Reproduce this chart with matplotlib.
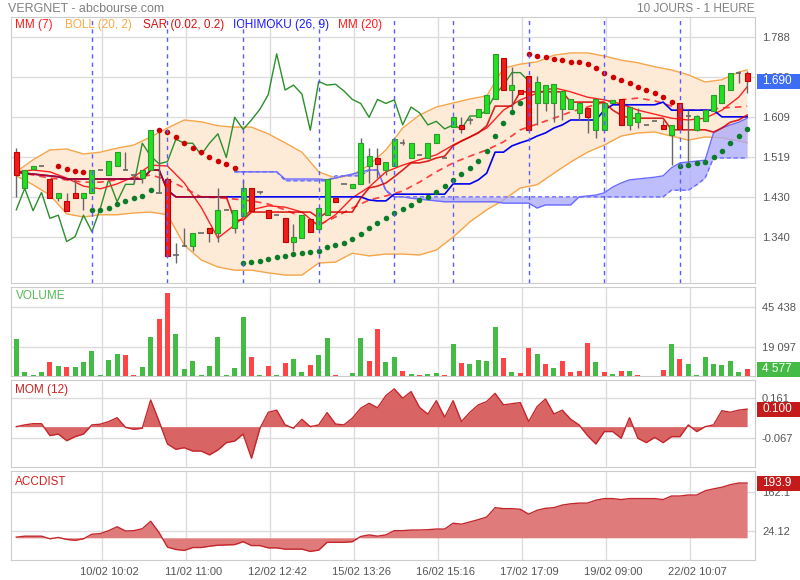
import matplotlib
matplotlib.use('Agg')
import matplotlib.pyplot as plt
import matplotlib.transforms as mtransforms
from matplotlib.patches import Rectangle
import numpy as np

plt.rcParams['font.family'] = ['Liberation Sans', 'DejaVu Sans']

# ---------------- DATA ----------------
opens = [1.531,1.450,1.493,1.500,1.470,1.429,1.422,1.439,1.429,1.439,
         1.491,1.480,1.500,1.491,1.480,1.473,1.491,1.440,1.470,1.301,
         1.320,1.320,1.350,1.361,1.350,1.402,1.361,1.389,1.450,1.441,
         1.402,1.390,1.383,1.331,1.340,1.382,1.360,1.391,1.429,1.459,
         1.450,1.459,1.500,1.519,1.491,1.500,1.551,1.519,1.525,1.519,
         1.551,1.519,1.588,1.592,1.603,1.609,1.619,1.649,1.741,1.669,
         1.670,1.702,1.642,1.642,1.640,1.628,1.628,1.619,1.629,1.581,
         1.581,1.640,1.649,1.592,1.599,1.592,1.600,1.592,1.570,1.640,
         1.612,1.581,1.600,1.622,1.640,1.669,1.709,1.709]
highs = [1.540,1.491,1.499,1.500,1.470,1.439,1.439,1.469,1.439,1.491,
         1.491,1.511,1.531,1.531,1.480,1.491,1.581,1.581,1.475,1.327,
         1.361,1.350,1.350,1.361,1.450,1.402,1.402,1.469,1.450,1.445,
         1.402,1.390,1.383,1.370,1.390,1.382,1.405,1.470,1.429,1.459,
         1.459,1.562,1.540,1.540,1.510,1.560,1.560,1.551,1.525,1.551,
         1.572,1.519,1.609,1.609,1.609,1.627,1.660,1.751,1.741,1.721,
         1.670,1.702,1.701,1.681,1.683,1.668,1.649,1.640,1.629,1.649,
         1.640,1.648,1.649,1.632,1.629,1.592,1.600,1.602,1.592,1.640,
         1.625,1.615,1.625,1.660,1.681,1.709,1.712,1.712]
lows = [1.431,1.450,1.493,1.500,1.429,1.422,1.400,1.429,1.402,1.439,
        1.491,1.480,1.500,1.491,1.462,1.462,1.491,1.440,1.299,1.282,
        1.320,1.311,1.350,1.331,1.331,1.402,1.351,1.389,1.400,1.437,
        1.383,1.390,1.331,1.311,1.340,1.353,1.360,1.391,1.420,1.459,
        1.450,1.459,1.461,1.473,1.480,1.500,1.546,1.519,1.525,1.519,
        1.551,1.519,1.588,1.574,1.595,1.609,1.619,1.649,1.670,1.622,
        1.661,1.580,1.592,1.622,1.599,1.603,1.628,1.603,1.573,1.562,
        1.581,1.640,1.592,1.581,1.585,1.592,1.600,1.583,1.502,1.583,
        1.507,1.578,1.600,1.622,1.640,1.669,1.685,1.663]
closes = [1.480,1.491,1.499,1.500,1.429,1.439,1.400,1.429,1.439,1.491,
          1.491,1.511,1.531,1.491,1.480,1.491,1.581,1.440,1.299,1.301,
          1.320,1.350,1.350,1.350,1.402,1.402,1.402,1.450,1.400,1.441,
          1.383,1.390,1.331,1.342,1.390,1.353,1.405,1.470,1.420,1.459,
          1.459,1.551,1.522,1.505,1.510,1.560,1.551,1.551,1.525,1.551,
          1.572,1.519,1.609,1.582,1.603,1.627,1.660,1.751,1.670,1.681,
          1.661,1.580,1.689,1.681,1.683,1.668,1.649,1.640,1.609,1.649,
          1.640,1.648,1.592,1.632,1.619,1.592,1.600,1.583,1.592,1.583,
          1.612,1.612,1.625,1.660,1.681,1.709,1.709,1.690]

# Indicators sampled at these candle indices
line_idx = list(range(0, 88, 2)) + [87]
boll_up = [1.487,1.514,1.536,1.538,1.527,1.531,1.540,1.547,1.565,1.585,
           1.603,1.599,1.590,1.587,1.587,1.572,1.552,1.531,1.487,1.473,
           1.480,1.502,1.536,1.585,1.614,1.632,1.641,1.650,1.657,1.719,
           1.728,1.733,1.748,1.753,1.753,1.746,1.737,1.731,1.722,1.715,
           1.704,1.688,1.693,1.710,1.715]
boll_low = [1.478,1.458,1.435,1.393,1.386,1.391,1.391,1.395,1.397,1.391,
            1.323,1.290,1.274,1.267,1.267,1.261,1.256,1.256,1.283,1.285,
            1.305,1.299,1.303,1.303,1.301,1.312,1.341,1.375,1.402,1.424,
            1.451,1.458,1.484,1.509,1.531,1.547,1.567,1.574,1.576,1.567,
            1.558,1.565,1.563,1.556,1.552]
mm20 = [1.487,1.480,1.473,1.469,1.464,1.464,1.469,1.473,1.480,1.469,
        1.451,1.431,1.429,1.426,1.422,1.415,1.402,1.386,1.368,1.386,
        1.406,1.424,1.433,1.444,1.464,1.487,1.507,1.522,1.536,1.554,
        1.581,1.594,1.607,1.621,1.632,1.643,1.648,1.652,1.646,1.634,
        1.625,1.625,1.630,1.632,1.634]
mm7 = [1.487,1.491,1.487,1.473,1.455,1.449,1.460,1.476,1.502,1.500,
       1.462,1.408,1.339,1.368,1.402,1.411,1.408,1.397,1.366,1.391,
       1.429,1.453,1.487,1.502,1.514,1.525,1.547,1.565,1.585,1.625,
       1.648,1.663,1.675,1.666,1.654,1.648,1.639,1.625,1.616,1.607,
       1.603,1.607,1.625,1.654,1.677]

tenkan = [1.487,1.484,1.482,1.480,1.478,1.476] + [1.471]*10 + [1.491,1.491,1.444] + [1.431]*7 \
    + [1.379,1.379] + [1.397]*8 + [1.384] + [1.397]*4 \
    + [1.428,1.451,1.455,1.462,1.476,1.491,1.507,1.507,1.511,1.518,1.522,1.545,1.556,1.565,1.574,1.590,1.634,1.634,1.634] \
    + [1.666]*6 + [1.643]*5 + [1.625,1.614] + [1.607]*5 + [1.581]*5 + [1.576,1.585,1.598,1.603,1.614]
kijun = [1.487,1.484,1.482,1.480,1.478,1.476] + [1.471]*10 + [1.491,1.491,1.446] + [1.431]*23 \
    + [1.424,1.422,1.422] + [1.437]*7 + [1.460]*3 + [1.469,1.484,1.531,1.531,1.545,1.552,1.558,1.567,1.574,1.585,1.592] \
    + [1.603]*4 + [1.625] + [1.637]*6 + [1.643] + [1.625]*6 + [1.610]*4

ichi_start = 26
span_a = [1.487]*6 + [1.471]*5 + [1.469,1.473,1.478,1.482,1.487,1.491,1.491,1.446,1.431,1.431,1.428,1.426,1.424,1.422] \
    + [1.420]*7 + [1.417]*4 + [1.406] + [1.413]*4 \
    + [1.431,1.433,1.435,1.440,1.453,1.462,1.469,1.471,1.473,1.475,1.478,1.496,1.507,1.509,1.511,1.513,
       1.574,1.585,1.592,1.598,1.607]
span_b = [1.487]*6 + [1.467]*6 + [1.478]*4 + [1.491]*2 + [1.444] + [1.431]*33 + [1.446]*3 + [1.458,1.473] + [1.518]*5

sar_start = 5
sar_vals = [1.500,1.493,1.489,1.487,
            1.402,1.402,1.406,1.415,1.422,1.428,1.433,1.446,
            1.581,1.576,1.565,1.552,1.540,1.531,1.520,1.511,1.505,1.496,
            1.283,1.285,1.288,1.292,1.297,1.299,1.303,1.305,1.308,1.310,1.319,1.323,1.328,1.337,1.348,1.361,1.373,
            1.384,1.395,1.404,1.413,1.424,1.431,1.442,1.455,1.469,1.482,1.496,1.511,1.534,1.567,1.596,1.621,1.641,
            1.751,1.746,1.744,1.739,1.737,1.733,1.733,1.728,1.719,1.708,1.699,1.693,1.686,1.677,1.670,1.663,1.654,1.643,
            1.500,1.502,1.507,1.509,1.520,1.534,1.552,1.567,1.583]
sar_below = [False]*4 + [True]*8 + [False]*10 + [True]*34 + [False]*18 + [True]*9

volume = [24200,2400,600,2400,9000,6400,6100,5700,9000,16700,
          600,10300,14500,13600,600,6100,25900,37700,54500,27700,
          4400,10100,600,6800,25500,600,5000,39100,12700,600,
          6800,600,8300,11000,2900,7000,13800,24800,600,300,
          1700,24800,9900,30700,9200,12700,3100,1300,400,1500,
          2200,700,21100,8300,8100,10500,9900,32100,11900,2600,
          1700,18600,14700,7900,5300,9900,2600,3500,21900,9400,
          2600,1100,3500,3500,900,0,0,4000,20900,11400,
          7900,600,12700,8100,7000,10100,2600,4577]
vol_up = [True,True,True,True,False,True,False,True,True,True,
          True,True,True,False,False,True,True,False,False,True,
          True,True,True,True,True,True,True,True,False,True,
          False,True,False,True,True,False,True,True,False,True,
          True,True,False,False,True,True,False,True,False,True,
          True,False,True,False,True,True,True,True,False,True,
          False,False,True,False,True,False,False,False,False,True,
          False,True,False,True,False,False,True,False,True,False,
          True,True,True,True,True,True,True,False]

mom = [0.000,0.010,0.017,0.017,-0.051,-0.042,-0.080,-0.057,-0.042,0.010,
       0.014,0.029,0.051,-0.004,-0.015,-0.009,0.152,0.030,-0.099,-0.129,
       -0.120,-0.139,-0.139,-0.161,-0.133,-0.091,-0.082,-0.042,-0.180,-0.010,
       0.082,0.094,0.010,-0.009,0.042,0.000,0.010,0.080,0.015,0.010,
       0.048,0.105,0.133,0.108,0.177,0.215,0.162,0.200,0.110,0.071,
       0.148,0.054,0.148,0.029,0.082,0.124,0.143,0.190,0.124,0.131,
       0.137,0.029,0.114,0.158,0.072,0.094,0.042,0.010,-0.051,-0.099,
       -0.028,-0.028,-0.066,0.051,-0.066,-0.091,-0.061,-0.091,-0.057,-0.057,
       0.010,-0.028,0.000,0.010,0.091,0.082,0.094,0.100]

accdist = [2.3,5.7,5.7,5.7,-3.4,1.2,-5.7,-9.1,-3.4,12.6,
           14.9,25.3,39.0,24.1,25.3,32.1,58.5,18.4,-33.2,-41.3,
           -44.7,-34.4,-34.4,-29.8,-26.3,-25.3,-24.1,-13.8,-27.5,-27.5,
           -35.6,-35.6,-40.1,-40.1,-40.1,-48.2,-43.5,-16.0,-16.0,-16.0,
           -13.8,4.6,10.3,5.7,10.3,25.3,25.3,27.5,27.5,28.7,
           31.0,31.0,51.6,48.2,56.2,64.2,73.4,106.6,103.2,103.2,
           100.9,83.7,97.5,104.4,106.6,115.9,120.4,122.8,122.8,133.1,
           138.8,138.8,135.3,138.8,138.8,138.8,138.8,135.3,147.9,147.9,
           151.4,151.4,166.3,173.2,178.9,188.1,193.9,193.9]

day_starts = [9, 18, 27, 36, 45, 52, 61, 70, 79]
xtick_pos = [10, 20, 30, 40, 50, 60, 70, 80]
xtick_labels = ['10/02 10:02', '11/02 11:00', '12/02 12:42', '15/02 13:26',
                '16/02 15:16', '17/02 17:09', '19/02 09:00', '22/02 10:07']
price_ticks = [1.3405, 1.4300, 1.5196, 1.6091, 1.6986, 1.7882]
price_labels = ['1.340', '1.430', '1.519', '1.609', '1.698', '1.788']
vol_ticks = [19097, 45438]
vol_labels = ['19 097', '45 438']
mom_ticks = [-0.067, 0.161]
acc_ticks = [24.12, 162.1]

# ---------------- FIGURE ----------------
W, H = 800, 580
AXW = 744
fig = plt.figure(figsize=(8, 5.8), dpi=100)

def add_ax(top, bottom):
    return fig.add_axes([11 / W, 1 - bottom / H, AXW / W, (bottom - top) / H])

ax = add_ax(17, 283)
axv = add_ax(287, 376)
axm = add_ax(380, 467)
axa = add_ax(471, 560)

n = len(closes)
x = np.arange(n)
XL = (-0.63, 87.94)
GRID = '#dcdcdc'
TXT = '#555555'

for a in (ax, axv, axm, axa):
    a.set_xlim(*XL)
    a.set_xticks([p + 0.15 for p in xtick_pos])
    a.grid(True, color=GRID, lw=1, zorder=0)
    a.set_axisbelow(True)
    for s in a.spines.values():
        s.set_color('#cccccc')
    a.yaxis.tick_right()
    a.tick_params(axis='both', length=0, labelsize=8, labelcolor=TXT, pad=5)
    a.set_facecolor('white')
for a in (ax, axv, axm):
    a.set_xticklabels([])
axa.set_xticklabels(xtick_labels)
offset = mtransforms.ScaledTranslation(8 / 100, 0, fig.dpi_scale_trans)
for lab in axa.get_xticklabels():
    lab.set_transform(lab.get_transform() + offset)


def value_box(a, val, label, color):
    tr = mtransforms.blended_transform_factory(a.transAxes, a.transData)
    y0, y1 = a.get_ylim()
    hpx = a.get_position().height * H
    hd = 15 * (y1 - y0) / hpx
    a.add_patch(Rectangle((1 + 2 / AXW, val - hd / 2), 45 / AXW, hd, transform=tr,
                          facecolor=color, edgecolor='none', clip_on=False, zorder=9))
    a.text(1 + 7 / AXW, val, label, transform=tr, color='white', fontsize=8.5,
           va='center', ha='left', clip_on=False, zorder=10)


# ---- main panel ----
ax.set_ylim(1.2383, 1.8334)
ax.set_yticks(price_ticks)
ax.set_yticklabels(price_labels)

li = np.array(line_idx)
ax.fill_between(li, boll_low, boll_up, color='#fdebd7', zorder=1, lw=0)
ax.plot(li, boll_up, color='#f5a64a', lw=1, zorder=2)
ax.plot(li, boll_low, color='#f5a64a', lw=1, zorder=2)

ix = np.arange(ichi_start, ichi_start + len(span_a))
ax.fill_between(ix, span_a, span_b, color='#a9a9fb', alpha=0.75, zorder=2, lw=0)
ax.plot(ix, span_a, color='#6b6bff', lw=1, zorder=3)
ax.plot(ix, span_b, color='#6b6bff', lw=1, ls=(0, (3, 2)), zorder=3)

cl = np.array(closes)
ax.plot(x[:n - 26], cl[26:], color='#2a8f2a', lw=1, zorder=3)

ax.plot(li, mm20, color='#ff3b3b', lw=1.2, ls=(0, (4, 3)), zorder=3)
ax.plot(li, mm7, color='#ff2020', lw=1, zorder=3)
ax.plot(x, kijun, color='#0000ee', lw=1.2, zorder=3)
ax.plot(x, tenkan, color='#d40000', lw=1.2, zorder=3, alpha=0.85)

o = np.array(opens); h = np.array(highs); l = np.array(lows); c = cl
up = c > o; dn = c < o; dj = c == o
ax.vlines(x, l, h, color='#666666', lw=1, zorder=5)
ax.bar(x[up], (c - o)[up], bottom=o[up], width=0.6, color='#22e022', edgecolor='#2d9a2d', lw=0.8, zorder=6)
ax.bar(x[dn], (o - c)[dn], bottom=c[dn], width=0.6, color='#f01c1c', edgecolor='#c00000', lw=0.8, zorder=6)
ax.hlines(c[dj], x[dj] - 0.33, x[dj] + 0.33, color='#666666', lw=1.2, zorder=6)

sx = np.arange(sar_start, sar_start + len(sar_vals))
sv = np.array(sar_vals); sb = np.array(sar_below)
ax.scatter(sx[~sb], sv[~sb], s=16, color='#d00000', zorder=7, lw=0)
ax.scatter(sx[sb], sv[sb], s=16, color='#0b7d2a', zorder=7, lw=0)

for d in day_starts:
    ax.axvline(d, color='#5a5aff', lw=1, ls=(0, (3, 3)), zorder=8)

value_box(ax, closes[-1], f'{closes[-1]:.3f}', '#3d6cf5')

# legend row
leg = [('MM (7)', '#ff1a1a', 15), ('BOLL (20, 2)', '#ffaa44', 65), ('SAR (0.02, 0.2)', '#dd1111', 143),
       ('ICHIMOKU (26, 9)', '#1a1aff', 233), ('MM (20)', '#ff1a1a', 338)]
for t, col, px in leg:
    fig.text(px / W, 1 - 25 / H, t, color=col, fontsize=8.5, va='center', ha='left')
fig.text(8 / W, 1 - 9 / H, 'VERGNET - abcbourse.com', color='#808080', fontsize=9, va='center', ha='left')
fig.text(755 / W, 1 - 9 / H, '10 JOURS - 1 HEURE', color='#808080', fontsize=8.5, va='center', ha='right')

# ---- volume ----
axv.set_ylim(0, 58600)
vcol = ['#44bb44' if u else '#ff4444' for u in vol_up]
axv.bar(x, volume, width=0.6, color=vcol, zorder=3)
axv.set_yticks(vol_ticks)
axv.set_yticklabels(vol_labels)
axv.text(0.006, 0.9, 'VOLUME', transform=axv.transAxes, color='#55bb55', fontsize=8.5, va='center')
value_box(axv, volume[-1], f'{volume[-1]:,}'.replace(',', ' '), '#44bb44')

# ---- momentum ----
axm.set_ylim(-0.230, 0.266)
axm.fill_between(x, mom, 0, color='#d96464', lw=0, zorder=2)
axm.plot(x, mom, color='#c4262c', lw=1, zorder=3)
axm.set_yticks(mom_ticks)
axm.set_yticklabels(['-0.067', '0.161'])
axm.text(0.006, 0.88, 'MOM (12)', transform=axm.transAxes, color='#d02020', fontsize=8.5, va='center')
value_box(axm, mom[-1], f'{mom[-1]:.3f}', '#c41a1a')

# ---- accdist ----
axa.set_ylim(-78.6, 236.5)
axa.fill_between(x, accdist, 0, color='#e07b7b', lw=0, zorder=2)
axa.plot(x, accdist, color='#c4262c', lw=1, zorder=3)
axa.set_yticks(acc_ticks)
axa.set_yticklabels(['24.12', '162.1'])
axa.text(0.006, 0.88, 'ACCDIST', transform=axa.transAxes, color='#d02020', fontsize=8.5, va='center')
value_box(axa, accdist[-1], f'{accdist[-1]:.1f}', '#c41a1a')

fig.savefig('out.png', dpi=100)
